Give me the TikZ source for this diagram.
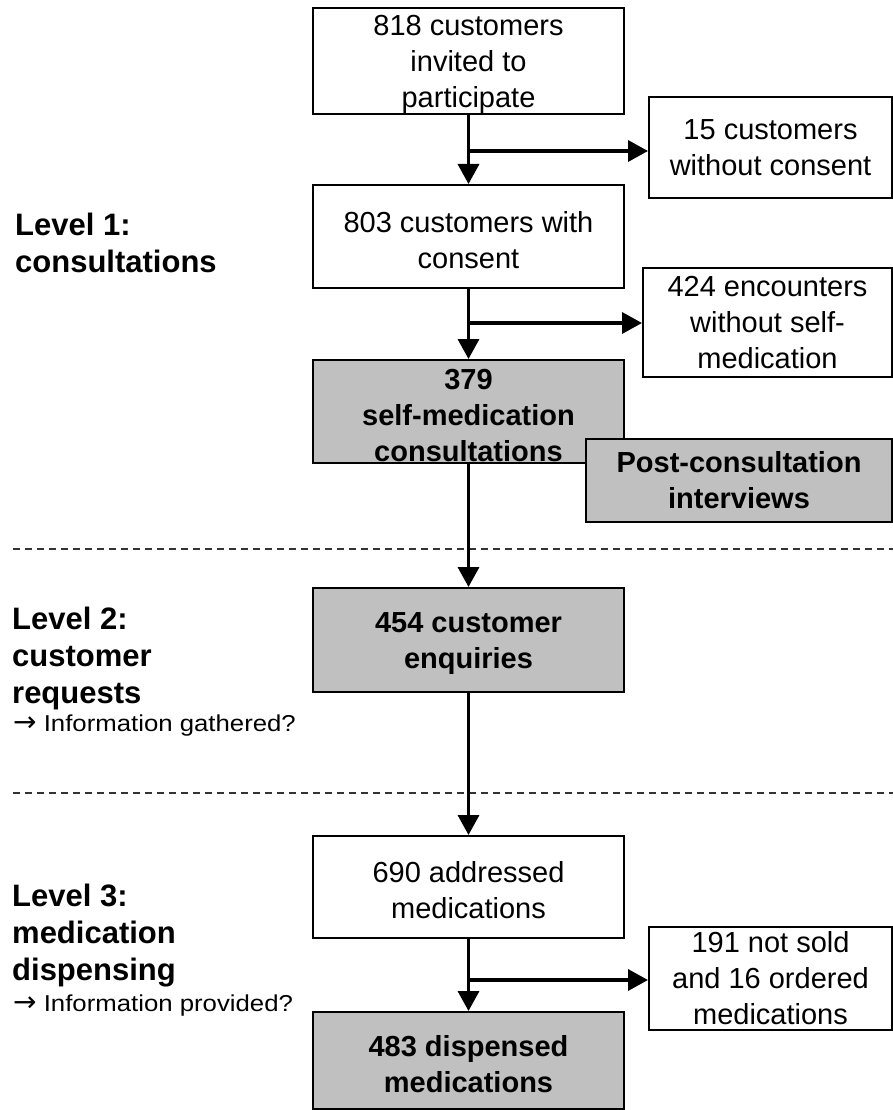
\documentclass[tikz,border=0pt]{standalone}
\usepackage{fontspec}
\setmainfont{Liberation Sans}
\newfontfamily\notefont[FakeStretch=1.12]{Liberation Sans}
\newfontfamily\arrowfont{DejaVu Sans}
\usetikzlibrary{arrows.meta}
\definecolor{boxgray}{RGB}{192,192,192}
% taller first line so box texts sit a little low, as set in the boxes
\newcommand\lift{\rule{0pt}{28pt}}
\newcommand\notearrow{{\fontsize{28}{28}\arrowfont →}}
\begin{document}
\begin{tikzpicture}[x=1pt,y=-1pt,
  box/.style={draw=black, line width=2pt, fill=white, align=center, inner sep=0pt,
    font=\fontsize{29}{36}\selectfont},
  shaded/.style={box, fill=boxgray, font=\fontsize{29}{36}\selectfont\bfseries},
  flow/.style={line width=3.5pt, -{Triangle[width=21pt,length=20pt]}},
  sep/.style={line width=1.5pt, dash pattern=on 7pt off 5pt, draw=black!80},
  level/.style={anchor=north west, inner sep=0pt, align=left,
    font=\fontsize{31}{37}\selectfont\bfseries},
  note/.style={anchor=base west, inner sep=0pt, font=\fontsize{23}{27}\notefont}]
\useasboundingbox (0,0) rectangle (893,1110);

% level separators
\coordinate (s1a) at (13,549);  \coordinate (s1b) at (893,549);
\coordinate (s2a) at (13,793);  \coordinate (s2b) at (893,793);
\draw[sep] (s1a) -- (s1b);
\draw[sep] (s2a) -- (s2b);

% level captions
\node[level] (lv1) at (15,213) {Level 1:\\consultations};
\node[level] (lv2) at (12,607) {Level 2:\\customer\\requests};
\node[note]  (q2)  at (13,731) {\notearrow\ Information gathered?};
\node[level] (lv3) at (12,884) {Level 3:\\medication\\dispensing};
\node[note]  (q3)  at (13,1011) {\notearrow\ Information provided?};

% main column
\node[box, minimum width=311pt, minimum height=104pt] (invited) at (468.5,61)
  {\lift 818 customers\\ invited to\\participate};
\node[box, minimum width=311pt, minimum height=103pt] (consent) at (468.5,236.5)
  {\lift 803 customers with\\consent};
\node[shaded, minimum width=311pt, minimum height=103pt] (selfmed) at (468.5,411.5)
  {\lift 379\\self-medication\\consultations};
\node[shaded, minimum width=311pt, minimum height=104pt] (enquiries) at (468.5,640)
  {\lift 454 customer\\enquiries};
\node[box, minimum width=311pt, minimum height=102pt] (addressed) at (468.5,887)
  {\lift 690 addressed\\medications};
\node[shaded, minimum width=311pt, minimum height=97pt] (dispensed) at (468.5,1060.5)
  {\lift 483 dispensed\\medications};

% side boxes
\node[box, minimum width=243pt, minimum height=101pt] (noconsent) at (770.5,147.5)
  {15 customers\\without consent};
\node[box, minimum width=249pt, minimum height=109pt] (noself) at (767.5,322.5)
  {424 encounters\\without self-\\medication};
\node[shaded, minimum width=306pt, minimum height=83pt] (interviews) at (739,480.5)
  {Post-consultation\\interviews};
\node[box, minimum width=243pt, minimum height=103pt] (notsold) at (770.5,978.5)
  {191 not sold\\and 16 ordered\\medications};

% branch points on the main column
\coordinate (j1) at (468.5,151);
\coordinate (j2) at (468.5,323);
\coordinate (j3) at (468.5,980);

% connectors
\draw[flow] (invited.south) -- (consent.north);
\draw[flow] (j1) -- (j1 -| noconsent.west);
\draw[flow] (consent.south) -- (selfmed.north);
\draw[flow] (j2) -- (j2 -| noself.west);
\draw[flow] (selfmed.south) -- (enquiries.north);
\draw[flow] (enquiries.south) -- (addressed.north);
\draw[flow] (addressed.south) -- (dispensed.north);
\draw[flow] (j3) -- (j3 -| notsold.west);
\end{tikzpicture}
\end{document}
